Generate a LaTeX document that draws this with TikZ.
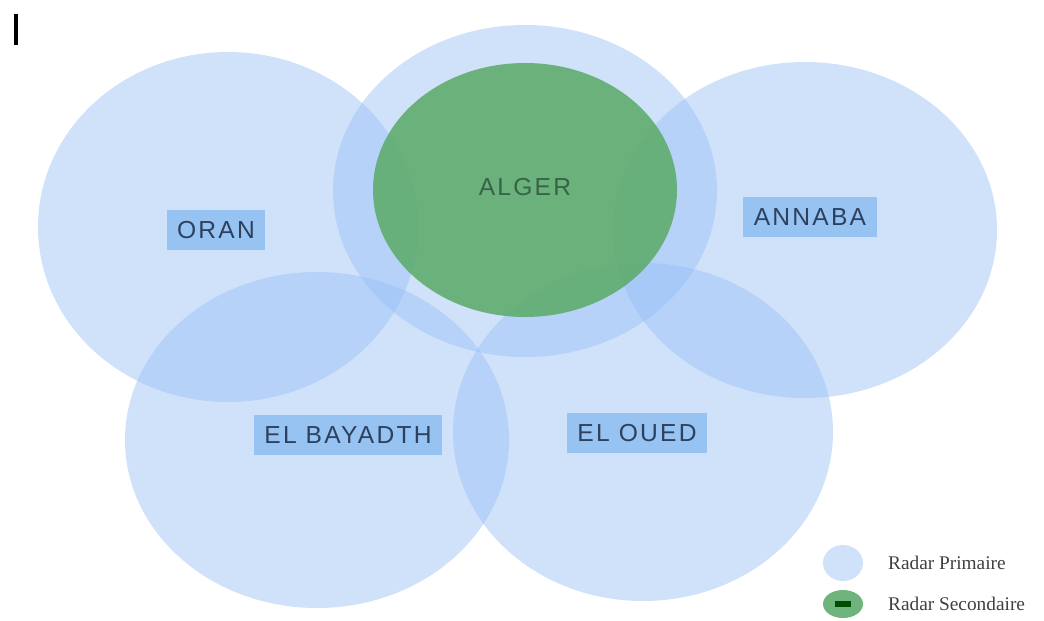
\documentclass[tikz,border=0pt]{standalone}
\usepackage{fontspec}
\setmainfont{Liberation Serif}
\setsansfont{Liberation Sans}[LetterSpace=9]
\definecolor{radarblue}{RGB}{150,190,245}
\definecolor{radargreen}{RGB}{95,172,110}
\definecolor{labelblue}{RGB}{150,195,242}
\definecolor{labeltext}{RGB}{45,65,95}
\definecolor{algertext}{RGB}{55,100,70}
\tikzset{
  primaire/.style={fill=radarblue, fill opacity=0.45},
  secondaire/.style={fill=radargreen, fill opacity=0.9},
  ville/.style={fill=labelblue, text=labeltext, inner xsep=9pt, minimum height=34pt,
    font=\sffamily\fontsize{21}{24}\selectfont},
  legende/.style={anchor=west, text=black!75, font=\fontsize{16.5}{19}\selectfont}
}
\begin{document}
\begin{tikzpicture}[x=0.03cm, y=-0.03cm]
  \useasboundingbox (0, 0) rectangle (1044, 621);
  \fill (14, 14) rectangle (18, 45);
  % radars primaires
  \fill[primaire] (228, 227) ellipse [x radius=190, y radius=175];
  \fill[primaire] (525, 191) ellipse [x radius=192, y radius=166];
  \fill[primaire] (805, 230) ellipse [x radius=192, y radius=168];
  \fill[primaire] (317, 440) ellipse [x radius=192, y radius=168];
  \fill[primaire] (643, 432) ellipse [x radius=190, y radius=169];
  % radar secondaire
  \fill[secondaire] (525, 190) ellipse [x radius=152, y radius=127];
  % villes
  \node[ville] (oran) at (216, 230) {ORAN};
  \node[text=algertext, font=\sffamily\fontsize{21}{24}\selectfont] (alger) at (525, 187) {ALGER};
  \node[ville] (annaba) at (810, 217) {ANNABA};
  \node[ville] (bayadth) at (348, 435) {EL BAYADTH};
  \node[ville] (oued) at (637, 433) {EL OUED};
  % legende
  \fill[primaire] (843, 563) ellipse [x radius=20, y radius=18];
  \fill[secondaire] (843, 604) ellipse [x radius=20, y radius=14];
  \fill[black!70!green] (835, 601) rectangle (851, 607);
  \node[legende] (prim) at (884, 563) {Radar Primaire};
  \node[legende] (sec) at (884, 604) {Radar Secondaire};
\end{tikzpicture}
\end{document}
